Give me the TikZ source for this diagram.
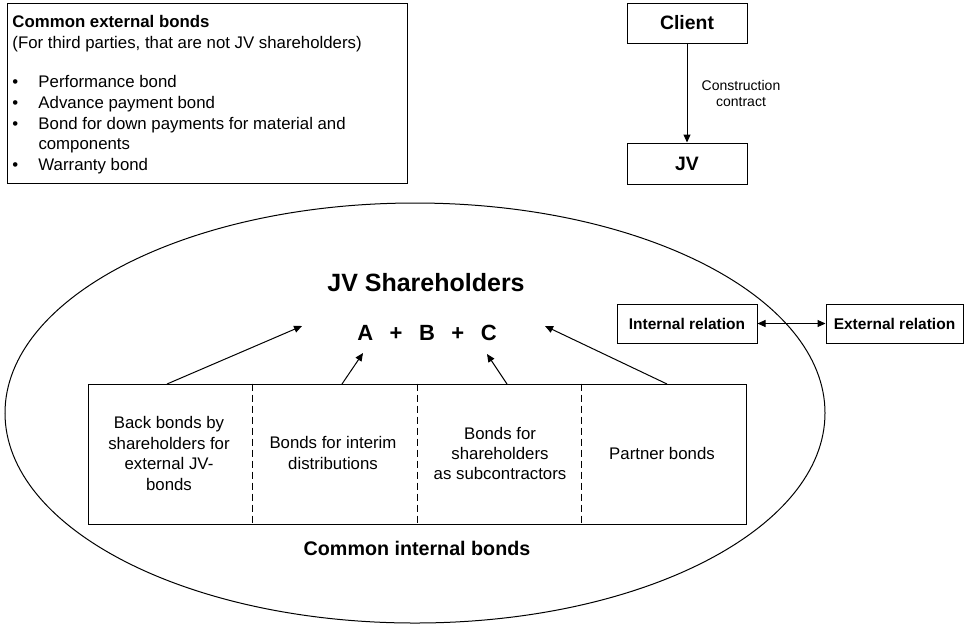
\documentclass[tikz,border=0pt]{standalone}
\usepackage{fontspec}
\setmainfont{Liberation Sans}
\usetikzlibrary{arrows.meta,shapes.geometric,calc}
\begin{document}
\begin{tikzpicture}[x=1pt,y=-1pt,line width=1pt,
  tip/.style={-{Triangle[length=8pt,width=7pt]}},
  twotip/.style={{Triangle[length=8pt,width=7pt]}-{Triangle[length=8pt,width=7pt]}},
  body/.style={font=\fontsize{16.8}{20.4}\selectfont,inner sep=0pt},
  bodybold/.style={font=\fontsize{16.8}{20.4}\selectfont\bfseries,inner sep=0pt},
  frame/.style={draw,inner sep=0pt},
  divider/.style={dash pattern=on 7pt off 4pt},
  column/.style={body,align=center}]
\useasboundingbox (0,0) rectangle (965,625);

% panel listing the external bonds
\node[frame,minimum width=400,minimum height=180,anchor=north west] (extbox) at (7,3) {};
\node[bodybold,anchor=base west] (exttitle) at (12,27) {Common external bonds};
\node[body,anchor=base west] (extnote) at (12,48) {(For third parties, that are not JV shareholders)};
\node[body,anchor=base west] (item1) at (12,87.3) {\makebox[26pt][l]{\textbullet}Performance bond};
\node[body,anchor=base west] (item2) at (12,108.3) {\makebox[26pt][l]{\textbullet}Advance payment bond};
\node[body,anchor=base west] (item3) at (12,129.3) {\makebox[26pt][l]{\textbullet}Bond for down payments for material and};
\node[body,anchor=base west] (item3b) at (38,149.6) {components};
\node[body,anchor=base west] (item4) at (12,170) {\makebox[26pt][l]{\textbullet}Warranty bond};

% client and joint venture
\node[frame,minimum width=120,minimum height=40,font=\fontsize{19.4}{22}\selectfont\bfseries] (client) at (687,23) {Client};
\node[frame,minimum width=120,minimum height=41,font=\fontsize{19.4}{22}\selectfont\bfseries] (jv) at (687,163.5) {JV};
\draw[tip] (client) -- (jv);
\node[font=\fontsize{14}{16}\selectfont,align=center,inner sep=0pt] (contract) at (741,93) {Construction\\contract};

% shareholder sphere
\node[draw,ellipse,minimum width=820,minimum height=420,inner sep=0pt] (sphere) at (415,413) {};
\node[font=\fontsize{25}{30}\selectfont\bfseries] (jvsh) at (426,283) {JV Shareholders};
\node[font=\fontsize{22}{26}\selectfont\bfseries] (abc) at (427,333)
  {A\hspace{16.5pt}+\hspace{16.5pt}B\hspace{16.5pt}+\hspace{16.5pt}C};

% legend of relations
\node[frame,minimum width=140,minimum height=39,font=\fontsize{15.5}{18}\selectfont\bfseries] (intrel) at (687,323.5) {Internal relation};
\node[frame,minimum width=137,minimum height=39,font=\fontsize{15.5}{18}\selectfont\bfseries] (extrel) at (894.5,323.5) {External relation};
\draw[twotip] (intrel) -- (extrel);

% internal bonds table
\node[frame,minimum width=658,minimum height=140] (ibox) at (417,454) {};
\foreach \f in {0.25,0.5,0.75}
  \draw[divider] ($(ibox.north west)!\f!(ibox.north east)$) -- ($(ibox.south west)!\f!(ibox.south east)$);
\node[column] (col1) at (169,453.5) {Back bonds by\\shareholders for\\external JV-\\bonds};
\node[column] (col2) at (333,453) {Bonds for interim\\distributions};
\node[column] (col3) at (500,453.5) {Bonds for\\shareholders\\as subcontractors};
\node[column] (col4) at (662,453) {Partner bonds};
\node[font=\fontsize{19.7}{22}\selectfont\bfseries] (ibtitle) at (417,548) {Common internal bonds};

% arrows from the bond types to the shareholders
\coordinate (s1) at (167,384);
\coordinate (s2) at (342,384);
\coordinate (s3) at (507,384);
\coordinate (s4) at (667,384);
\coordinate (t1) at (302,326);
\coordinate (t2) at (363,353);
\coordinate (t3) at (487,354);
\coordinate (t4) at (545,326);
\draw[tip] (s1) -- (t1);
\draw[tip] (s2) -- (t2);
\draw[tip] (s3) -- (t3);
\draw[tip] (s4) -- (t4);
\end{tikzpicture}
\end{document}
